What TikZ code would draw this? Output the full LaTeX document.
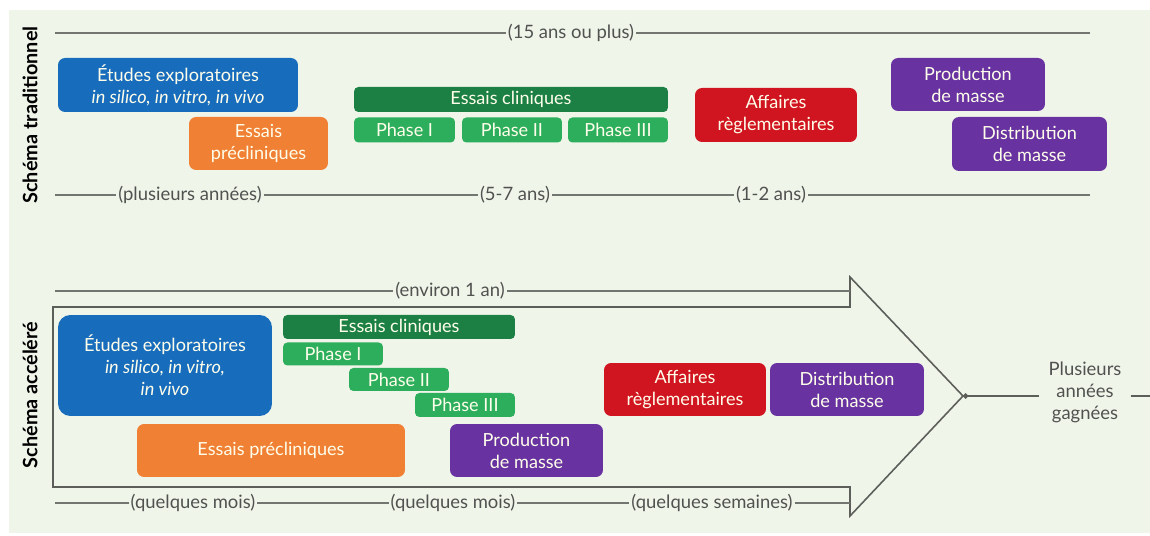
\documentclass[tikz,border=0pt]{standalone}
\usepackage{fontspec}
\setmainfont{Lato}
\usetikzlibrary{arrows.meta}

\definecolor{fond}{RGB}{240,245,234}
\definecolor{trait}{RGB}{115,118,112}
\definecolor{texte}{RGB}{80,82,80}
\definecolor{bleu}{RGB}{24,108,188}
\definecolor{orange}{RGB}{240,128,52}
\definecolor{vertfonce}{RGB}{28,128,68}
\definecolor{vert}{RGB}{44,174,92}
\definecolor{rouge}{RGB}{208,20,32}
\definecolor{violet}{RGB}{104,50,160}

\begin{document}
\begin{tikzpicture}
  [x=0.02cm,y=-0.02cm,
   every node/.style={inner sep=0pt},
   box/.style={rounded corners=4pt,text=white!92!yellow,align=center,
               font=\fontsize{10.3}{12.5}\selectfont},
   phase/.style={box,fill=vert,rounded corners=2.5pt,minimum height=0.5cm},
   duree/.style={fill=fond,text=texte,inner sep=1pt,font=\fontsize{10.5}{12}\selectfont},
   temps/.style={draw=trait,line width=1.1pt},
   titre/.style={rotate=90,font=\bfseries\fontsize{11.3}{13}\selectfont}]

  \useasboundingbox (0,0) rectangle (1150,536);
  \fill[white] (0,0) rectangle (1150,536);
  \fill[fond] (9,10) rectangle (1150,533);

  \node[titre] (trad) at (30,115) {Schéma traditionnel};
  \node[titre] (acc)  at (30,395) {Schéma accéléré};

  % schema traditionnel
  \coordinate (h1) at (55,33);   \coordinate (h2) at (1090,33);
  \coordinate (b1) at (55,195);  \coordinate (b2) at (1090,195);
  \node[duree] (d15)  at (571,33)  {(15 ans ou plus)};
  \node[duree] (dplu) at (190,195) {(plusieurs années)};
  \node[duree] (d57)  at (515,195) {(5-7 ans)};
  \node[duree] (d12)  at (771,195) {(1-2 ans)};
  \draw[temps] (h1) -- (d15) -- (h2);
  \draw[temps] (b1) -- (dplu) -- (d57) -- (d12) -- (b2);

  \node[box,fill=bleu,minimum width=4.8cm,minimum height=1.08cm] (etudA) at (178,85)
       {Études exploratoires\\\textit{in silico, in vitro, in vivo}};
  \node[box,fill=orange,minimum width=2.78cm,minimum height=1.06cm] (preA) at (258.5,143.5)
       {Essais\\précliniques};
  \node[box,fill=vertfonce,rounded corners=2.5pt,minimum width=6.28cm,minimum height=0.5cm] (clinA) at (511,99.5)
       {Essais cliniques};
  \node[phase,minimum width=2.02cm] (ph1A) at (404.5,130) {Phase I};
  \node[phase,minimum width=2cm]    (ph2A) at (512,130)   {Phase II};
  \node[phase,minimum width=2cm]    (ph3A) at (618,130)   {Phase III};
  \node[box,fill=rouge,minimum width=3.24cm,minimum height=1.08cm] (regA) at (776,115)
       {Affaires\\règlementaires};
  \node[box,fill=violet,minimum width=3.08cm,minimum height=1.06cm] (prodA) at (968,84.5)
       {Production\\de masse};
  \node[box,fill=violet,minimum width=3.1cm,minimum height=1.08cm] (distA) at (1029.5,144)
       {Distribution\\de masse};

  % schema accelere
  \coordinate (p1) at (53,307);  \coordinate (p2) at (850,307);
  \coordinate (p3) at (850,277); \coordinate (pointe) at (963,396);
  \coordinate (p5) at (850,516); \coordinate (p6) at (850,487);
  \coordinate (p7) at (53,487);
  \draw[draw=trait!80!black,line width=0.9pt] (p1) -- (p2) -- (p3) -- (pointe) -- (p5) -- (p6) -- (p7) -- cycle;

  \coordinate (ha1) at (55,291); \coordinate (ha2) at (850,291);
  \coordinate (ba1) at (55,503); \coordinate (ba2) at (850,503);
  \node[duree] (d1an)  at (450,291) {(environ 1 an)};
  \node[duree] (dmoi1) at (193,503) {(quelques mois)};
  \node[duree] (dmoi2) at (453,503) {(quelques mois)};
  \node[duree] (dsem)  at (712,503) {(quelques semaines)};
  \draw[temps] (ha1) -- (d1an) -- (ha2);
  \draw[temps] (ba1) -- (dmoi1) -- (dmoi2) -- (dsem) -- (ba2);

  \node[box,fill=bleu,rounded corners=7pt,minimum width=4.28cm,minimum height=2.02cm] (etudB) at (165,365.5)
       {Études exploratoires\\\textit{in silico, in vitro,}\\\textit{in vivo}};
  \node[box,fill=orange,minimum width=5.36cm,minimum height=1.06cm] (preB) at (271,450.5)
       {Essais précliniques};
  \node[box,fill=vertfonce,rounded corners=2.5pt,minimum width=4.64cm,minimum height=0.48cm] (clinB) at (399,327)
       {Essais cliniques};
  \node[phase,minimum width=2cm,minimum height=0.46cm] (ph1B) at (333,354)   {Phase I};
  \node[phase,minimum width=2cm,minimum height=0.46cm] (ph2B) at (399,379.5) {Phase II};
  \node[phase,minimum width=2cm,minimum height=0.48cm] (ph3B) at (465,405)   {Phase III};
  \node[box,fill=violet,minimum width=3.06cm,minimum height=1.06cm] (prodB) at (526.5,450.5)
       {Production\\de masse};
  \node[box,fill=rouge,minimum width=3.24cm,minimum height=1.06cm] (regB) at (685,389.5)
       {Affaires\\règlementaires};
  \node[box,fill=violet,minimum width=3.08cm,minimum height=1.06cm] (distB) at (847,389.5)
       {Distribution\\de masse};

  \coordinate (bord) at (1150,396);
  \node[duree,align=center,inner sep=5pt,font=\fontsize{10.5}{12.5}\selectfont] (gain) at (1085,392)
       {Plusieurs\\années\\gagnées};
  \draw[draw=trait!80!black,line width=0.8pt,{Circle[length=3pt]}-] (pointe) -- (gain.west |- pointe);
  \draw[draw=trait!80!black,line width=0.8pt] (gain.east |- bord) -- (bord);
\end{tikzpicture}
\end{document}
